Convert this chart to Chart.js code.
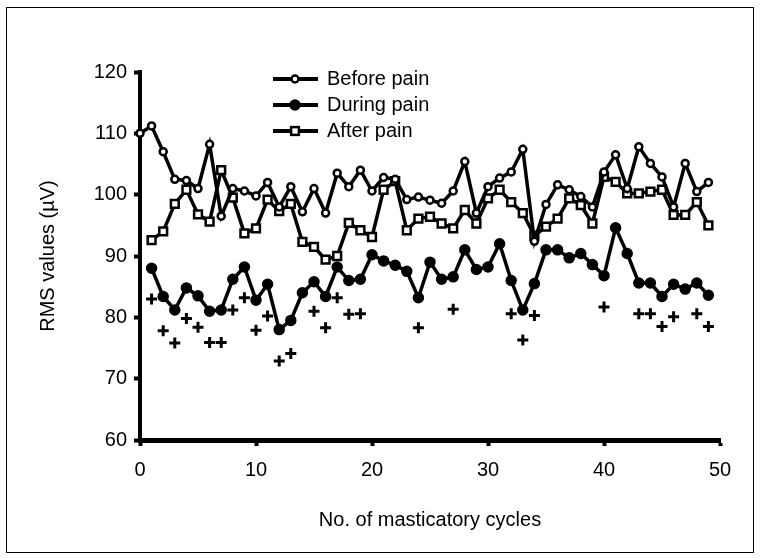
<!DOCTYPE html>
<html>
<head>
<meta charset="utf-8">
<script src="https://cdn.jsdelivr.net/npm/chart.js@4.4.0/dist/chart.umd.min.js"></script>
<style>
html, body { margin:0; padding:0; background:#fff; }
</style>
</head>
<body>
<canvas id="rmsChart" width="761" height="560"></canvas>
<script>
// x: masticatory cycle number
var cycles = [0,1,2,3,4,5,6,7,8,9,10,11,12,13,14,15,16,17,18,19,20,21,22,23,24,
  25,26,27,28,29,30,31,32,33,34,35,36,37,38,39,40,41,42,43,44,45,46,47,48,49];

// RMS values (uV)
var beforePain = [110,111.2,107,102.5,102.3,101,108.2,96.5,101,100.6,99.8,102,98,101.3,97.2,
  101,97,103.5,101.3,104,100.6,102.8,102.5,99.2,99.6,99.1,98.6,100.6,105.4,97,101.3,102.7,
  103.7,107.4,92.4,98.4,101.6,100.8,99.7,98,103.7,106.5,101,107.8,105.1,102.9,98,105.1,100.5,102];
var duringPain = [null,88,83.4,81.2,84.8,83.5,81,81.2,86.2,88.2,82.8,85.4,78,79.5,84,85.8,83.4,
  88.2,86,86.2,90.2,89.2,88.5,87.5,83.2,89,86.2,86.6,91,87.8,88.2,92,86,81.2,85.5,91,91,89.7,
  90.4,88.6,86.8,94.6,90.4,85.6,85.6,83.4,85.4,84.6,85.6,83.6];
var afterPain = [null,92.6,94,98.5,100.8,96.8,95.6,104,99.5,93.7,94.5,99.2,97.3,98.5,92.3,91.5,
  89.4,90,95.4,94.2,93.1,100.8,102.2,94.2,96.1,96.4,95.3,94.5,97.5,95.3,99.4,100.8,98.8,97,93.3,
  94.8,96.1,99.4,98.3,95.3,102.9,102.1,100.2,100.2,100.5,100.8,96.7,96.7,98.8,95];

// "+" marks below the curves
var markCycles = [1,2,3,4,5,6,7,8,9,10,11,12,13,15,16,17,18,19,24,27,32,33,34,40,43,44,45,46,48,49];
var markValues = [83,77.8,75.8,79.8,78.4,75.9,75.9,81.2,83.2,77.9,80.2,72.9,74.1,81,78.3,83.2,
  80.5,80.6,78.3,81.3,80.6,76.3,80.3,81.7,80.6,80.6,78.5,80.1,80.6,78.5];

var xTicks = [0,10,20,30,40,50];
var yTicks = [60,70,80,90,100,110,120];
var legendNames = ["Before pain","During pain","After pain"];

function toPoints(xs, vals){
  var pts = [];
  vals.forEach(function(v, i){
    if(v !== null) pts.push({x: xs[i], y: v});
  });
  return pts;
}

var FONT = 'Arial, "Liberation Sans", sans-serif';
var FSIZE = 20;

var legendPlugin = {
  id: 'insideLegend',
  afterDraw: function(chart){
    var ctx = chart.ctx;
    var rows = [79, 105, 131];
    ctx.save();
    for(var i = 0; i < 3; i++){
      var ds = chart.data.datasets[i];
      var y = rows[i];
      ctx.strokeStyle = '#000';
      ctx.lineWidth = 4;
      ctx.beginPath();
      ctx.moveTo(273, y);
      ctx.lineTo(318, y);
      ctx.stroke();
      ctx.lineWidth = 2.5;
      ctx.fillStyle = ds.pointBackgroundColor;
      var r = ds.pointRadius;
      if(ds.pointStyle == 'rect'){
        var s = r / Math.SQRT2;
        ctx.fillRect(295 - s, y - s, 2 * s, 2 * s);
        ctx.strokeRect(295 - s, y - s, 2 * s, 2 * s);
      }else{
        ctx.beginPath();
        ctx.arc(295, y, r, 0, Math.PI * 2);
        ctx.fill();
        ctx.stroke();
      }
      ctx.fillStyle = '#000';
      ctx.font = FSIZE + 'px ' + FONT;
      ctx.textAlign = 'left';
      ctx.textBaseline = 'middle';
      ctx.fillText(legendNames[i], 327, y);
    }
    // outer frame
    ctx.lineWidth = 1;
    ctx.strokeStyle = '#000';
    ctx.strokeRect(6.5, 7.5, 747, 545);
    ctx.restore();
  }
};

var lineStyle = {
  borderColor: '#000',
  borderWidth: 3.5,
  tension: 0,
  clip: false,
  pointBorderColor: '#000',
  pointBorderWidth: 2.5,
  pointHoverRadius: 0
};

new Chart(document.getElementById('rmsChart'), {
  type: 'line',
  data: {
    datasets: [
      Object.assign({label: legendNames[0], data: toPoints(cycles, beforePain),
        pointStyle: 'circle', pointRadius: 3.5, pointBackgroundColor: '#fff'}, lineStyle),
      Object.assign({label: legendNames[1], data: toPoints(cycles, duringPain),
        pointStyle: 'circle', pointRadius: 4.5, pointBackgroundColor: '#000'}, lineStyle),
      Object.assign({label: legendNames[2], data: toPoints(cycles, afterPain),
        pointStyle: 'rect', pointRadius: 5.5, pointBackgroundColor: '#fff'}, lineStyle),
      {
        label: 'marks',
        data: toPoints(markCycles, markValues),
        showLine: false,
        clip: false,
        pointStyle: 'cross',
        pointRadius: 5.5,
        pointBorderWidth: 3,
        pointBorderColor: '#000',
        borderColor: '#000'
      }
    ]
  },
  options: {
    responsive: false,
    animation: false,
    events: [],
    layout: { padding: { left: 32, right: 41, top: 72, bottom: 24 } },
    plugins: { legend: { display: false }, tooltip: { enabled: false } },
    scales: {
      x: {
        type: 'linear',
        min: 0,
        max: 50,
        afterBuildTicks: function(scale){ scale.ticks = xTicks.map(function(v){ return {value: v}; }); },
        afterFit: function(scale){ scale.height = 96; },
        border: { display: true, color: '#000', width: 5 },
        grid: { drawOnChartArea: false, drawTicks: true, tickLength: 6, tickWidth: 4, tickColor: '#000' },
        ticks: { color: '#000', font: { family: FONT, size: FSIZE }, padding: 12, maxRotation: 0 },
        title: { display: true, text: 'No. of masticatory cycles', color: '#000', font: { family: FONT, size: FSIZE } }
      },
      y: {
        min: 60,
        max: 120,
        afterBuildTicks: function(scale){ scale.ticks = yTicks.map(function(v){ return {value: v}; }); },
        afterFit: function(scale){ scale.width = 108; },
        border: { display: true, color: '#000', width: 4 },
        grid: { drawOnChartArea: false, drawTicks: true, tickLength: 6, tickWidth: 4, tickColor: '#000' },
        ticks: { color: '#000', font: { family: FONT, size: FSIZE }, padding: 7 },
        title: { display: true, text: 'RMS values (\u00b5V)', color: '#000', font: { family: FONT, size: FSIZE } }
      }
    }
  },
  plugins: [legendPlugin]
});
</script>
</body>
</html>
